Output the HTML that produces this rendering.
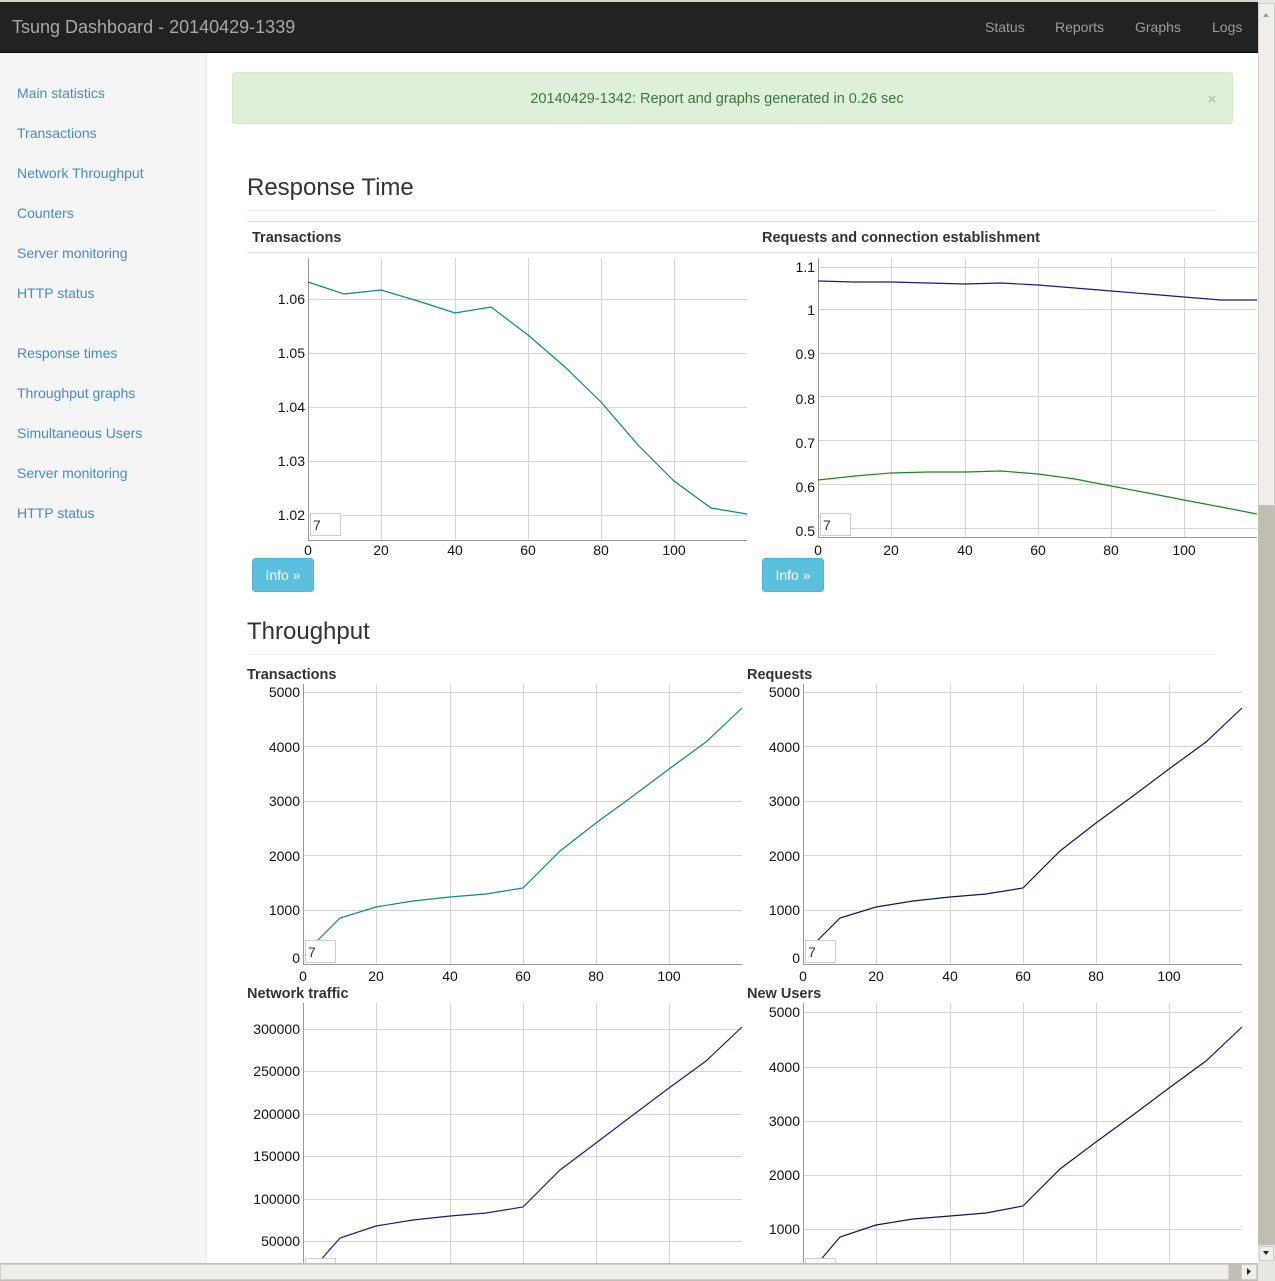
<!DOCTYPE html>
<html><head><meta charset="utf-8"><style>
html,body{margin:0;padding:0;width:1275px;height:1281px;overflow:hidden;background:#fff}
svg{display:block;font-family:"Liberation Sans",sans-serif}
</style></head><body>
<svg width="1275" height="1281" viewBox="0 0 1275 1281" xmlns="http://www.w3.org/2000/svg">
<rect x="0" y="52" width="206" height="1211" fill="#f5f5f5"/>
<line x1="206.5" y1="52" x2="206.5" y2="1263" stroke="#e6e6e6"/>
<rect x="0" y="0" width="1258" height="53" fill="#222"/>
<rect x="0" y="0" width="1258" height="2" fill="#d8d4cc"/>
<line x1="0" y1="52.5" x2="1258" y2="52.5" stroke="#080808"/>
<text x="12" y="33" font-size="18" fill="#a8a8a8">Tsung Dashboard - 20140429-1339</text>
<g font-size="14" fill="#9d9d9d">
<text x="985" y="32">Status</text><text x="1055" y="32">Reports</text><text x="1135" y="32">Graphs</text><text x="1212" y="32">Logs</text></g>
<g font-size="14" fill="#428bca">
<text x="17" y="98">Main statistics</text><text x="17" y="138">Transactions</text><text x="17" y="178">Network Throughput</text><text x="17" y="218">Counters</text><text x="17" y="258">Server monitoring</text><text x="17" y="298">HTTP status</text>
<text x="17" y="358">Response times</text><text x="17" y="398">Throughput graphs</text><text x="17" y="438">Simultaneous Users</text><text x="17" y="478">Server monitoring</text><text x="17" y="518">HTTP status</text></g>
<rect x="232.5" y="72.5" width="1000" height="51" rx="3" fill="#dff0d8" stroke="#d6e9c6"/>
<text x="717" y="103" font-size="14.5" fill="#3c763d" text-anchor="middle">20140429-1342: Report and graphs generated in 0.26 sec</text>
<text x="1212" y="104" font-size="15" font-weight="bold" fill="#b3c8aa" text-anchor="middle">×</text>
<text x="247" y="195" font-size="24" fill="#333">Response Time</text>
<line x1="247" y1="210.5" x2="1217" y2="210.5" stroke="#eee"/>
<line x1="247" y1="221.5" x2="1258" y2="221.5" stroke="#ddd"/>
<text x="252" y="242" font-size="14.5" font-weight="bold" fill="#333">Transactions</text>
<text x="762" y="242" font-size="14.5" font-weight="bold" fill="#333">Requests and connection establishment</text>
<line x1="247" y1="252.5" x2="1258" y2="252.5" stroke="#ddd"/>
<text x="247" y="639" font-size="24" fill="#333">Throughput</text>
<line x1="247" y1="654.5" x2="1217" y2="654.5" stroke="#eee"/>
<g font-size="14.5" font-weight="bold" fill="#333">
<text x="247" y="679">Transactions</text><text x="747" y="679">Requests</text>
<text x="247" y="998">Network traffic</text><text x="747" y="998">New Users</text></g>

<g stroke="#d4d4d4" stroke-width="1" fill="none">
<path d="M381.5 258V540M455.5 258V540M528.5 258V540M601.5 258V540M674.5 258V540M308 299.5H747M308 353.5H747M308 407.5H747M308 461.5H747M308 515.5H747"/>
<path d="M891.5 258V537M965.5 258V537M1038.5 258V537M1111.5 258V537M1184.5 258V537M818 267.5H1257M818 309.5H1257M818 353.5H1257M818 396.5H1257M818 440.5H1257M818 484.5H1257M818 528.5H1257"/>
<path d="M376.5 684V964M450.5 684V964M523.5 684V964M596.5 684V964M669.5 684V964M303 692.5H742M303 746.5H742M303 801.5H742M303 855.5H742M303 910.5H742"/>
<path d="M876.5 684V964M950.5 684V964M1023.5 684V964M1096.5 684V964M1169.5 684V964M803 692.5H1242M803 746.5H1242M803 801.5H1242M803 855.5H1242M803 910.5H1242"/>
<path d="M376.5 1003V1263M450.5 1003V1263M523.5 1003V1263M596.5 1003V1263M669.5 1003V1263M303 1029.5H742M303 1071.5H742M303 1114.5H742M303 1156.5H742M303 1199.5H742M303 1241.5H742"/>
<path d="M876.5 1003V1263M950.5 1003V1263M1023.5 1003V1263M1096.5 1003V1263M1169.5 1003V1263M803 1012.5H1242M803 1067.5H1242M803 1121.5H1242M803 1175.5H1242M803 1229.5H1242"/>
</g>
<g stroke="#999" fill="none">
<path d="M308.5 258V540.5H747"/>
<path d="M818.5 258V537.5H1257"/>
<path d="M303.5 684V964.5H742"/>
<path d="M803.5 684V964.5H1242"/>
<path d="M303.5 1003V1263"/>
<path d="M803.5 1003V1263"/>
</g>
<g fill="none" stroke-width="1.2">
<polyline stroke="#0a8a8a" points="308,282 344,294 381,290 418,301 455,313 491,307 528,335 565,367 601,402 638,445 674,481 711,508 747,514"/>
<polyline stroke="#1a1a8a" points="818,281 855,282 891,282 928,283 965,284 1001,283 1038,285 1075,288 1111,291 1148,294 1184,297 1221,300 1257,300"/>
<polyline stroke="#1a8a1a" points="818,480 855,476 891,473 928,472 965,472 1001,471 1038,474 1075,479 1111,486 1148,493 1184,500 1221,507 1257,514"/>
<polyline stroke="#0a8a8a" points="305,956 318,940 340,918 376,907 413,901 450,897 486,894 523,888 560,851 596,823 633,796 669,769 706,742 742,708"/>
<polyline stroke="#0a1a5a" points="805,956 818,940 840,918 876,907 913,901 950,897 986,894 1023,888 1060,851 1096,823 1133,796 1169,769 1206,742 1242,708"/>
<polyline stroke="#1a1a8a" points="318,1263 340,1238 376,1226 413,1220 450,1216 486,1213 523,1207 560,1170 596,1143 633,1115 669,1088 706,1061 742,1027"/>
<polyline stroke="#0a1a5a" points="818,1263 840,1237 876,1225 913,1219 950,1216 986,1213 1023,1206 1060,1169 1096,1142 1133,1115 1169,1088 1206,1061 1242,1027"/>
</g>
<g fill="#fff" stroke="#ccc">
<rect x="310.5" y="513.5" width="30" height="22"/>
<rect x="820.5" y="513.5" width="30" height="22"/>
<rect x="305.5" y="940.5" width="30" height="22"/>
<rect x="805.5" y="940.5" width="30" height="22"/>
<rect x="305.5" y="1258.5" width="30" height="22"/>
<rect x="805.5" y="1258.5" width="30" height="22"/>
</g>
<g font-size="14" fill="#333"><text x="313" y="530">7</text><text x="823" y="530">7</text><text x="308" y="957">7</text><text x="808" y="957">7</text></g>
<g font-size="14" fill="#111" text-anchor="end">
<text x="305" y="304">1.06</text><text x="305" y="358">1.05</text><text x="305" y="412">1.04</text><text x="305" y="466">1.03</text><text x="305" y="520">1.02</text>
<text x="815" y="272">1.1</text><text x="815" y="315">1</text><text x="815" y="359">0.9</text><text x="815" y="404">0.8</text><text x="815" y="448">0.7</text><text x="815" y="492">0.6</text><text x="815" y="536">0.5</text>
<text x="300" y="697">5000</text><text x="300" y="752">4000</text><text x="300" y="806">3000</text><text x="300" y="861">2000</text><text x="300" y="915">1000</text><text x="300" y="963">0</text>
<text x="800" y="697">5000</text><text x="800" y="752">4000</text><text x="800" y="806">3000</text><text x="800" y="861">2000</text><text x="800" y="915">1000</text><text x="800" y="963">0</text>
<text x="300" y="1034">300000</text><text x="300" y="1076">250000</text><text x="300" y="1119">200000</text><text x="300" y="1161">150000</text><text x="300" y="1204">100000</text><text x="300" y="1246">50000</text>
<text x="800" y="1017">5000</text><text x="800" y="1072">4000</text><text x="800" y="1126">3000</text><text x="800" y="1180">2000</text><text x="800" y="1234">1000</text>
</g>
<g font-size="14" fill="#111" text-anchor="middle">
<text x="308" y="555">0</text><text x="381" y="555">20</text><text x="455" y="555">40</text><text x="528" y="555">60</text><text x="601" y="555">80</text><text x="674" y="555">100</text>
<text x="818" y="555">0</text><text x="891" y="555">20</text><text x="965" y="555">40</text><text x="1038" y="555">60</text><text x="1111" y="555">80</text><text x="1184" y="555">100</text>
<text x="303" y="981">0</text><text x="376" y="981">20</text><text x="450" y="981">40</text><text x="523" y="981">60</text><text x="596" y="981">80</text><text x="669" y="981">100</text>
<text x="803" y="981">0</text><text x="876" y="981">20</text><text x="950" y="981">40</text><text x="1023" y="981">60</text><text x="1096" y="981">80</text><text x="1169" y="981">100</text>
</g>
<rect x="252.5" y="558.5" width="61" height="33" rx="3" fill="#5bc0de" stroke="#46b8da"/>
<text x="283" y="580" font-size="14" fill="#fff" text-anchor="middle">Info »</text>
<rect x="762.5" y="558.5" width="61" height="33" rx="3" fill="#5bc0de" stroke="#46b8da"/>
<text x="793" y="580" font-size="14" fill="#fff" text-anchor="middle">Info »</text>
<rect x="1258" y="0" width="17" height="1281" fill="#e9e7e3"/>
<rect x="1258.5" y="3.5" width="16" height="502" fill="#efeeeb" stroke="#d0cdc6"/>
<rect x="1258" y="505" width="17" height="740" fill="#c1bdb3"/>
<rect x="1259.5" y="1246.5" width="14" height="14" fill="#efeeeb" stroke="#d0cdc6"/>
<path d="M1263 1251h6l-3 4z" fill="#222"/>
<path d="M1263 17h6l-3 -4z" fill="#999"/>
<rect x="0" y="1263" width="1258" height="18" fill="#c1bdb3"/>
<rect x="0.5" y="1264.5" width="1228" height="15" fill="#efeeeb" stroke="#d0cdc6"/>
<rect x="1241.5" y="1264.5" width="15" height="15" fill="#efeeeb" stroke="#d0cdc6"/>
<path d="M1247 1268v7l4-3.5z" fill="#222"/>
<rect x="1258" y="1263" width="17" height="18" fill="#e9e7e3"/>
</svg>
</body></html>
